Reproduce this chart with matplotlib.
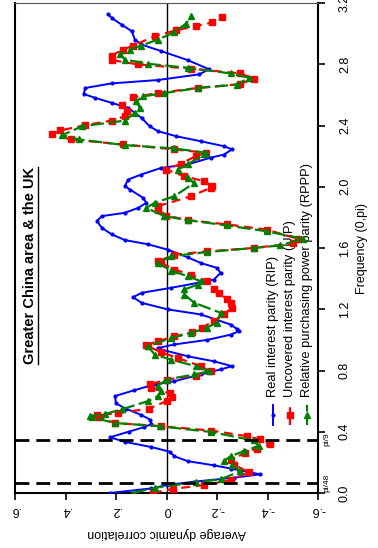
import matplotlib
matplotlib.use("Agg")
import matplotlib.pyplot as plt
from matplotlib.lines import Line2D
import matplotlib.transforms as mtransforms
import numpy as np

plt.rcParams['font.family'] = ['Liberation Sans', 'DejaVu Sans']

# ---- data (frequency, average dynamic correlation) ----
rip_freq = [0.0, 0.03, 0.052, 0.074, 0.10, 0.122, 0.16, 0.18, 0.208, 0.24, 0.27, 0.30, 0.334, 0.364,
            0.40, 0.43, 0.45, 0.48, 0.51, 0.55, 0.585, 0.633, 0.67, 0.709, 0.73, 0.774, 0.807, 0.828,
            0.86, 0.893, 0.937, 0.947, 0.97, 1.0, 1.034, 1.056, 1.07, 1.10, 1.166, 1.199, 1.242,
            1.279, 1.307, 1.34, 1.372, 1.394, 1.437, 1.47, 1.502, 1.539, 1.589, 1.624, 1.652, 1.689,
            1.732, 1.776, 1.808, 1.83, 1.862, 1.895, 1.928, 1.982, 2.004, 2.047, 2.08, 2.123, 2.146,
            2.19, 2.21, 2.244, 2.265, 2.297, 2.33, 2.363, 2.395, 2.45, 2.515, 2.548, 2.58, 2.606,
            2.645, 2.675, 2.697, 2.734, 2.767, 2.827, 2.886, 2.929, 2.961, 3.016, 3.059, 3.102, 3.125]
rip_corr = [0.224, 0.06, 0.0, -0.11, -0.267, -0.371, -0.254, -0.19, -0.084, -0.031, -0.012, 0.06,
            0.165, 0.224, 0.15, 0.09, 0.06, 0.066, 0.1, 0.16, 0.20, 0.204, 0.13, 0.047, -0.031,
            -0.136, -0.214, -0.26, -0.188, -0.084, 0.021, 0.034, -0.031, -0.162, -0.254, -0.286,
            -0.28, -0.254, -0.136, -0.005, 0.099, 0.132, 0.099, -0.018, -0.123, -0.188, -0.214,
            -0.2, -0.136, -0.084, -0.005, 0.073, 0.165, 0.217, 0.256, 0.276, 0.256, 0.165, 0.112,
            0.08, 0.093, 0.145, 0.165, 0.152, 0.1, 0.021, -0.084, -0.175, -0.227, -0.26, -0.227,
            -0.136, -0.038, 0.034, 0.067, 0.099, 0.152, 0.217, 0.282, 0.328, 0.322, 0.217, 0.034,
            -0.129, -0.169, -0.084, 0.021, 0.1, 0.125, 0.138, 0.178, 0.217, 0.23]

uip_freq = [0.0, 0.027, 0.052, 0.083, 0.136, 0.186, 0.217, 0.26, 0.29, 0.317, 0.35, 0.371, 0.408,
            0.436, 0.457, 0.494, 0.507, 0.522, 0.551, 0.60, 0.625, 0.65, 0.685, 0.709, 0.741, 0.767,
            0.795, 0.828, 0.882, 0.919, 0.958, 0.969, 0.99, 1.023, 1.049, 1.08, 1.123, 1.166, 1.21,
            1.242, 1.264, 1.307, 1.329, 1.383, 1.426, 1.459, 1.502, 1.513, 1.556, 1.578, 1.60, 1.63,
            1.66, 1.72, 1.754, 1.782, 1.812, 1.851, 1.873, 1.938, 1.993, 2.004, 2.036, 2.068, 2.112,
            2.151, 2.20, 2.222, 2.244, 2.276, 2.309, 2.342, 2.368, 2.402, 2.432, 2.46, 2.493, 2.535,
            2.584, 2.612, 2.645, 2.67, 2.705, 2.74, 2.771, 2.799, 2.827, 2.857, 2.896, 2.922, 2.983,
            3.022, 3.048, 3.074, 3.109]
uip_corr = [0.054, -0.025, -0.149, -0.254, -0.325, -0.267, -0.254, -0.31, -0.36, -0.41, -0.371,
            -0.319, -0.175, 0.021, 0.204, 0.269, 0.276, 0.191, 0.07, 0.0, -0.02, -0.015, 0.06, 0.065,
            0.0, -0.116, -0.175, -0.136, -0.044, 0.021, 0.073, 0.08, 0.034, -0.031, -0.10, -0.14,
            -0.188, -0.227, -0.26, -0.254, -0.24, -0.208, -0.188, -0.162, -0.097, -0.031, 0.021,
            0.034, -0.031, -0.162, -0.345, -0.50, -0.52, -0.397, -0.24, -0.084, 0.001, 0.034, 0.034,
            -0.097, -0.175, -0.182, -0.149, -0.071, 0.001, -0.058, -0.116, -0.156, -0.031, 0.171,
            0.38, 0.452, 0.42, 0.322, 0.217, 0.165, 0.158, 0.178, 0.132, 0.034, -0.123, -0.29,
            -0.345, -0.293, -0.097, 0.112, 0.217, 0.217, 0.171, 0.132, 0.047, -0.038, -0.116,
            -0.182, -0.221]

rppp_freq = [0.0, 0.034, 0.07, 0.089, 0.143, 0.18, 0.208, 0.24, 0.273, 0.306, 0.343, 0.399, 0.436,
             0.457, 0.494, 0.50, 0.516, 0.546, 0.60, 0.633, 0.665, 0.698, 0.741, 0.774, 0.795, 0.828,
             0.871, 0.904, 0.958, 1.012, 1.045, 1.08, 1.112, 1.177, 1.242, 1.296, 1.329, 1.361, 1.383,
             1.416, 1.452, 1.502, 1.546, 1.574, 1.60, 1.617, 1.661, 1.709, 1.747, 1.782, 1.808, 1.862,
             1.895, 1.938, 2.025, 2.058, 2.112, 2.146, 2.211, 2.222, 2.25, 2.272, 2.309, 2.337, 2.395,
             2.432, 2.482, 2.515, 2.558, 2.59, 2.612, 2.645, 2.667, 2.712, 2.74, 2.777, 2.803, 2.831,
             2.864, 2.896, 2.922, 2.961, 3.009, 3.065, 3.113]
rppp_corr = [0.132, 0.047, -0.116, -0.214, -0.293, -0.26, -0.227, -0.254, -0.306, -0.365, -0.345,
             -0.175, 0.027, 0.204, 0.295, 0.302, 0.243, 0.178, 0.073, 0.034, 0.021, 0.034, 0.0,
             -0.11, -0.169, -0.116, -0.018, 0.047, 0.073, -0.018, -0.097, -0.16, -0.2, -0.214,
             -0.11, -0.071, -0.071, -0.123, -0.136, -0.084, -0.018, 0.034, -0.018, -0.162, -0.345,
             -0.45, -0.54, -0.397, -0.24, -0.084, 0.008, 0.08, 0.047, -0.031, -0.11, -0.084, -0.044,
             -0.084, -0.149, -0.156, -0.031, 0.165, 0.348, 0.413, 0.334, 0.165, 0.125, 0.106, 0.119,
             0.093, 0.008, -0.123, -0.28, -0.325, -0.254, -0.084, 0.073, 0.165, 0.184, 0.145, 0.1,
             0.034, -0.031, -0.077, -0.097]

series_labels = ["Real interest parity (RIP)",
                 "Uncovered interest parity (UIP)",
                 "Relative purchasing power parity (RPPP)"]
freq_ticks = [0.0, 0.4, 0.8, 1.2, 1.6, 2.0, 2.4, 2.8, 3.2]
freq_ticklabels = ["0.0", "0.4", "0.8", "1.2", "1.6", "2.0", "2.4", "2.8", "3.2"]
corr_ticks = [0.6, 0.4, 0.2, 0.0, -0.2, -0.4, -0.6]
corr_ticklabels = [".6", ".4", ".2", ".0", "-.2", "-.4", "-.6"]
ref_freqs = [np.pi / 48, np.pi / 9]
ref_labels = ["pi/48", "pi/9"]
title = "Greater China area & the UK"

# ---- figure ----
fig = plt.figure(figsize=(3.78, 5.48), dpi=100)
ax = fig.add_axes([15 / 378, 1 - 493 / 548, 303 / 378, 490 / 548])

blue, red, green = '#0000ff', '#ff0000', '#008000'
ax.plot(rip_corr, rip_freq, color=blue, lw=1.4, marker='o', ms=2, zorder=3)
ax.plot(uip_corr, uip_freq, color=red, lw=1.6, ls=(0, (4, 2.5)), marker='s', ms=4, zorder=4)
ax.plot(rppp_corr, rppp_freq, color=green, lw=1.6, ls=(0, (6, 2)), marker='^', ms=4, zorder=5)

ax.axvline(0, color='black', lw=1.0, zorder=2)
for f in ref_freqs:
    ax.axhline(f, color='black', lw=2.0, ls=(0, (5, 2.5)), zorder=6)

ax.set_xlim(0.6, -0.6)
ax.set_ylim(0, 3.2)
ax.set_xticks(corr_ticks)
ax.set_xticklabels(corr_ticklabels)
ax.set_yticks(freq_ticks)
ax.set_yticklabels(freq_ticklabels)
ax.yaxis.tick_right()
ax.yaxis.set_label_position('right')
ax.tick_params(axis='x', labelrotation=180, labelsize=9, length=5, width=1.2, direction='out', pad=3)
ax.tick_params(axis='y', labelrotation=90, labelsize=9, length=5, width=1.2, direction='out', pad=10)
for lab in ax.get_yticklabels():
    lab.set_va('center')
for s in ['left', 'right', 'bottom']:
    ax.spines[s].set_linewidth(1.5)
ax.spines['top'].set_linewidth(0.8)
ax.spines['top'].set_color('#555555')

ax.set_xlabel("Average dynamic correlation", rotation=180, fontsize=9, labelpad=8)
ax.set_ylabel("Frequency (0,pi)", rotation=90, fontsize=9, labelpad=4)

# pi/48, pi/9 labels
trans = mtransforms.blended_transform_factory(ax.transAxes, ax.transData)
for f, lab in zip(ref_freqs, ref_labels):
    ax.text(1.03, f, lab, transform=trans, rotation=90, fontsize=6, ha='center', va='center',
            clip_on=False)

# title (rotated, bold, underlined)
ttl = ax.text(0.05, 0.465, title, transform=ax.transAxes, rotation=90, fontsize=10.5,
              fontweight='bold', ha='center', va='center')

# legend drawn manually (rotated)
leg_x = [0.851, 0.908, 0.964]
line_styles = [dict(color=blue, lw=1.4),
               dict(color=red, lw=1.6, ls=(0, (3, 2))),
               dict(color=green, lw=1.6, ls=(0, (4, 2)))]
mark_styles = [dict(color=blue, marker='o', ms=2),
               dict(color=red, marker='s', ms=4),
               dict(color=green, marker='^', ms=4)]
for x, lab, ls_, ms_ in zip(leg_x, series_labels, line_styles, mark_styles):
    ax.add_line(Line2D([x, x], [0.139, 0.18], transform=ax.transAxes, clip_on=False, **ls_))
    ax.plot([x], [0.16], transform=ax.transAxes, ls='none', clip_on=False, **ms_)
    ax.text(x, 0.195, lab, transform=ax.transAxes, rotation=90, rotation_mode='anchor',
            fontsize=9.3, ha='left', va='center')

fig.canvas.draw()
bb = ttl.get_window_extent().transformed(fig.transFigure.inverted())
fig.add_artist(Line2D([bb.x1 + 0.002, bb.x1 + 0.002], [bb.y0, bb.y1], transform=fig.transFigure,
                      color='black', lw=1.0))

fig.savefig("out.png", dpi=100)
